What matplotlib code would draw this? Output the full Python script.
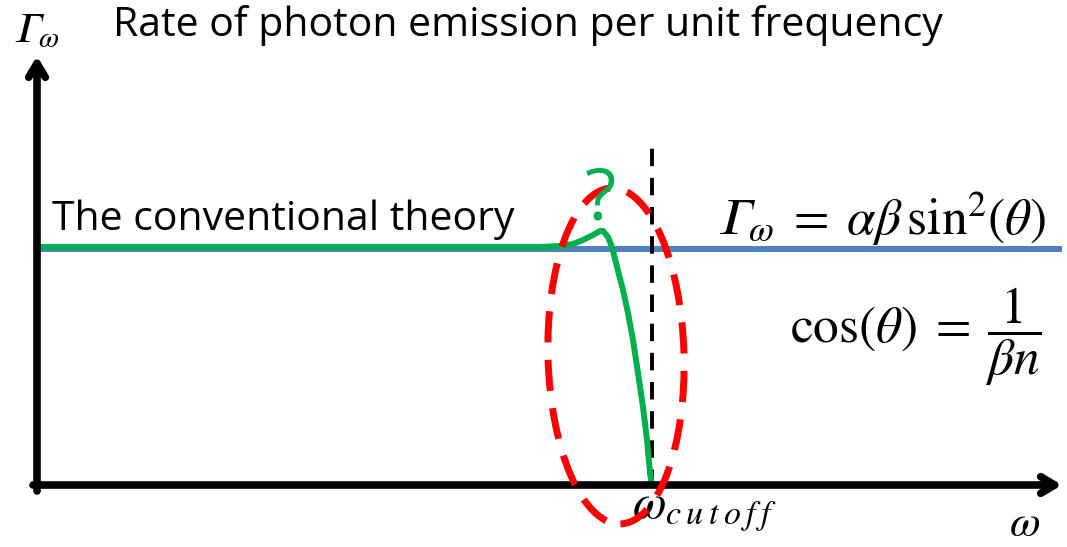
import matplotlib.pyplot as plt
from matplotlib.patches import Ellipse

# frequency axis (arbitrary units), rate axis (arbitrary units)
omega = [0, 503, 523, 536, 546, 556, 563, 566, 571, 575, 580, 586,
         591, 596, 601, 606, 610, 613, 615]
rate_new = [240, 240, 241, 243, 247, 252, 256, 256, 250, 240, 220, 197,
            174, 147, 114, 80, 47, 14, 0]
omega_max = 1025
rate_conventional = 238
omega_cutoff = 615
cutoff_top = 342

plt.rcParams['mathtext.fontset'] = 'stix'
fig = plt.figure(figsize=(10.67, 5.47), dpi=100)
ax = fig.add_axes([0, 0, 1, 1])
ax.set_xlim(-37, 1030)
ax.set_ylim(-60, 487)
ax.axis('off')

# conventional rate
ax.plot([0, omega_max], [rate_conventional, rate_conventional],
        color='#4f81bd', lw=4.3, solid_capstyle='butt', zorder=2)
# modified rate
ax.plot(omega, rate_new, color='#00b050', lw=4.3, zorder=3,
        solid_joinstyle='round', solid_capstyle='butt')

# cutoff line
ax.plot([omega_cutoff, omega_cutoff], [0, cutoff_top], color='black',
        lw=2.8, ls=(0, (4.5, 3)), zorder=2)

# axes arrows
arrow = dict(arrowstyle='->,head_length=1.0,head_width=0.6',
             lw=5.5, color='black', shrinkA=0, shrinkB=0)
ax.annotate('', xy=(0, 431), xytext=(0, -4), arrowprops=arrow)
ax.annotate('', xy=(1025, 2), xytext=(-4, 2), arrowprops=arrow)

# highlight ellipse
ax.add_patch(Ellipse((579, 131), 136, 336, angle=1.5, fill=False,
                     ec='#ff0000', lw=5, ls=(0, (4.5, 2.5)), zorder=4))

ax.text(564, 268, '?', color='#00b050', fontsize=52, family='Open Sans',
        ha='center', va='baseline', zorder=5)

ax.text(76, 462, 'Rate of photon emission per unit frequency',
        fontsize=29.5, family='Open Sans', va='center', ha='left')
ax.text(15, 267, 'The conventional theory', fontsize=29.5,
        family='Open Sans', va='center', ha='left')
ax.text(-24, 457, '$\U0001D6E4_{\\omega}$', fontsize=30,
        va='center', ha='left')
ax.text(1009, 268,
        '$\U0001D6E4_{\\omega}\\;=\\;\\alpha\\beta\\,\\sin^{2}\\!(\\theta)$',
        fontsize=37, va='center', ha='right')
ax.text(1005, 150, r'$\cos(\theta)\;=\;\dfrac{1}{\beta n}$',
        fontsize=37, va='center', ha='right')
ax.text(595, -23, r'$\omega_{c\:u\:t\:o\:f\:f}$', fontsize=35,
        va='center', ha='left')
ax.text(972, -36, r'$\omega$', fontsize=32, va='center', ha='left')

fig.savefig('out.png', dpi=100)
